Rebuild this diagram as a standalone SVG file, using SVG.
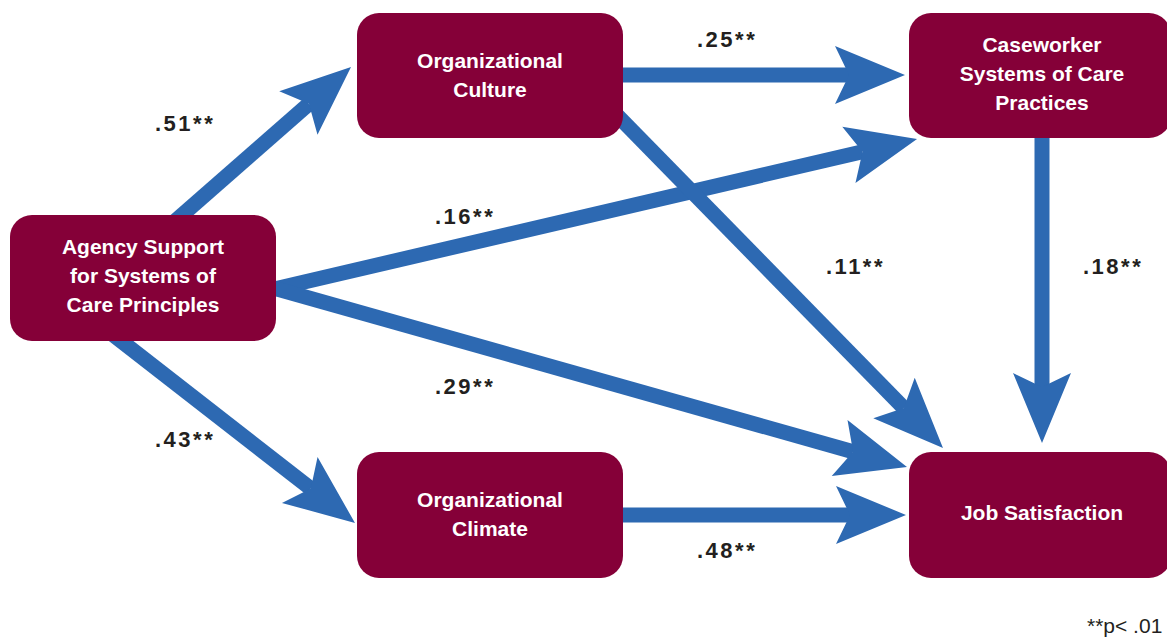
<svg xmlns="http://www.w3.org/2000/svg" width="1167" height="641" viewBox="0 0 1167 641">
<style>
.box{fill:#850038}
.nt{font-family:"Liberation Sans",Arial,sans-serif;font-weight:bold;font-size:21px;fill:#ffffff;text-anchor:middle}
.lbl{font-family:"Liberation Sans",Arial,sans-serif;font-weight:bold;font-size:22px;fill:#231f20;letter-spacing:2.5px}
.conn{stroke:#2d69b2;stroke-width:15;fill:none;marker-end:url(#ah)}
.foot{font-family:"Liberation Sans",Arial,sans-serif;font-size:21px;fill:#231f20}
</style>
<defs>
<marker id="ah" markerUnits="userSpaceOnUse" orient="auto" refX="0" refY="0" markerWidth="200" markerHeight="200" overflow="visible">
<path d="M56,0 L-14,-29 L0,0 L-14,29 Z" fill="#2d69b2"/>
</marker>
</defs>
<rect width="1167" height="641" fill="#ffffff"/>
<g id="connectors">
<line class="conn" x1="165" y1="230" x2="308.9" y2="103.8"/>
<line class="conn" x1="107" y1="330" x2="310.8" y2="488.6"/>
<line class="conn" x1="610" y1="75" x2="849" y2="75"/>
<line class="conn" x1="270" y1="290" x2="862.5" y2="151.7"/>
<line class="conn" x1="270" y1="287" x2="853.1" y2="451.8"/>
<line class="conn" x1="610" y1="108" x2="903.8" y2="408"/>
<line class="conn" x1="610" y1="515" x2="850" y2="515"/>
<line class="conn" x1="1042" y1="130" x2="1042" y2="387"/>
</g>
<g id="labels">
<text class="lbl" x="697" y="47">.25**</text>
<text class="lbl" x="155" y="131">.51**</text>
<text class="lbl" x="435" y="224">.16**</text>
<text class="lbl" x="435" y="394">.29**</text>
<text class="lbl" x="155" y="447">.43**</text>
<text class="lbl" x="826" y="274">.11**</text>
<text class="lbl" x="1083" y="274">.18**</text>
<text class="lbl" x="697" y="558">.48**</text>
<text class="foot" x="1087" y="633">**p&lt; .01</text>
</g>
<g id="agency">
<rect class="box" x="10" y="215" width="266" height="126" rx="22"/>
<text class="nt" x="143" y="254">Agency Support</text>
<text class="nt" x="143" y="283">for Systems of</text>
<text class="nt" x="143" y="312">Care Principles</text>
</g>
<g id="culture">
<rect class="box" x="357" y="13" width="266" height="125" rx="22"/>
<text class="nt" x="490" y="68">Organizational</text>
<text class="nt" x="490" y="97">Culture</text>
</g>
<g id="caseworker">
<rect class="box" x="909" y="13" width="262" height="125" rx="22"/>
<text class="nt" x="1042" y="52">Caseworker</text>
<text class="nt" x="1042" y="81">Systems of Care</text>
<text class="nt" x="1042" y="110">Practices</text>
</g>
<g id="climate">
<rect class="box" x="357" y="452" width="266" height="126" rx="22"/>
<text class="nt" x="490" y="507">Organizational</text>
<text class="nt" x="490" y="536">Climate</text>
</g>
<g id="jobsat">
<rect class="box" x="909" y="452" width="262" height="126" rx="22"/>
<text class="nt" x="1042" y="520">Job Satisfaction</text>
</g>
</svg>
